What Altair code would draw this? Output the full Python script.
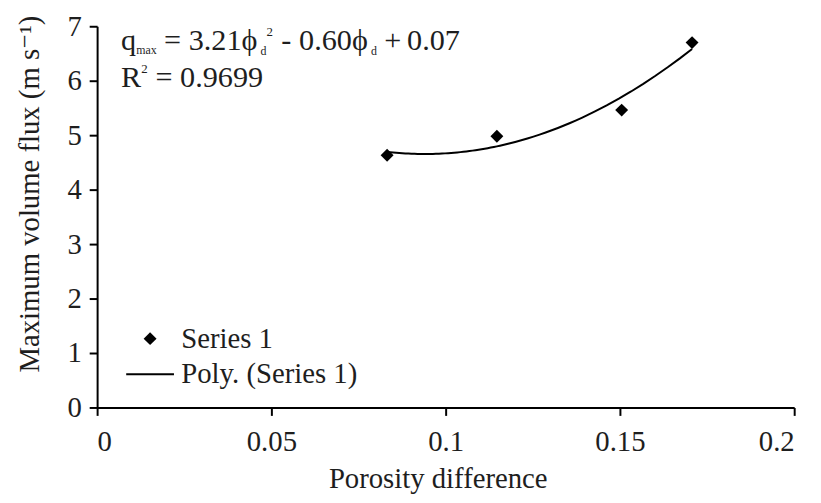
import altair as alt
import pandas as pd

# ---- data ----
porosity_diff = [0.0832, 0.1147, 0.1505, 0.1707]
max_flux = [4.63, 4.98, 5.46, 6.70]
series_name = ["Series 1", "Series 1", "Series 1", "Series 1"]
legend_entries = ["Series 1", "Poly. (Series 1)"]
x_tick_values = [0, 0.05, 0.1, 0.15, 0.2]
y_tick_values = [0, 1, 2, 3, 4, 5, 6, 7]

df = pd.DataFrame({"x": porosity_diff, "y": max_flux, "series": series_name})

FONT = "'Liberation Serif', 'Times New Roman', 'DejaVu Serif', serif"
INK = "#1e1e1e"
W, H = 704, 385

x_enc = alt.X(
    "x:Q",
    scale=alt.Scale(domain=[0, 0.2], nice=False, zero=False),
    axis=alt.Axis(
        values=x_tick_values,
        labelExpr="'' + datum.value",
        title="Porosity difference",
        titleX=344,
        titleY=81,
        titleBaseline="alphabetic",
        titleAnchor="middle",
        labelPadding=12,
    ),
)
y_enc = alt.Y(
    "y:Q",
    scale=alt.Scale(domain=[0, 7], nice=False),
    axis=alt.Axis(
        values=y_tick_values,
        labelExpr="'' + datum.value",
        title="Maximum volume flux (m s\u207b\u00b9)",
        titleX=-59,
        titleY=169,
        titleAngle=-90,
        titleBaseline="alphabetic",
        titleAlign="center",
        labelPadding=8,
    ),
)

DIAMOND = "M-1,0L0,-1L1,0L0,1Z"
DASH = "M-3.7,-0.16L3.7,-0.16L3.7,0.16L-3.7,0.16Z"

points = alt.Chart(df).mark_point(filled=True, color="black", opacity=1, size=170).encode(
    x=x_enc,
    y=y_enc,
    shape=alt.Shape(
        "series:N",
        scale=alt.Scale(domain=legend_entries, range=[DIAMOND, DASH]),
        legend=alt.Legend(
            title=None,
            orient="none",
            legendX=39,
            legendY=301,
            direction="vertical",
            symbolSize=170,
            symbolFillColor="black",
            symbolOpacity=1,
            labelOffset=17,
            labelLimit=400,
            labelFont=FONT,
            labelFontSize=29,
            labelColor=INK,
            rowPadding=6,
            padding=0,
        ),
    ),
)

fit = (
    alt.Chart(df)
    .transform_regression("x", "y", method="poly", order=2)
    .mark_line(color="black", strokeWidth=2)
    .encode(x="x:Q", y="y:Q")
)

ann_src = pd.DataFrame({"k": [0]})


def piece(txt, px, py, size):
    return alt.Chart(ann_src).mark_text(
        align="left", baseline="alphabetic", font=FONT, fontSize=size, color=INK
    ).encode(x=alt.value(px), y=alt.value(py), text=alt.value(txt))


PHI = "\u03d5"
S = 30.5
# equation pieces (pixel positions inside plot area)
eq = [
    piece("q", 24, 24, S),
    piece("max", 39.5, 28, 12),
    piece("=", 67.5, 24, S),
    piece("3.21" + PHI, 92.5, 24, S),
    piece("d", 165, 29, 12),
    piece("2", 171, 10, 13),
    piece("-", 186, 24, S),
    piece("0.60" + PHI, 204, 24, S),
    piece("d", 276.5, 29, 12),
    piece("+", 290, 24, S),
    piece("0.07", 313, 24, S),
    piece("R", 24, 61, S),
    piece("2", 44.5, 47, 13),
    piece("= 0.9699", 59, 61, S),
]

chart = (
    alt.layer(fit, points, *eq)
    .properties(
        width=W,
        height=H,
        autosize=alt.AutoSizeParams(type="none"),
        padding={"left": 90, "top": 16, "right": 19, "bottom": 90},
    )
    .configure_view(stroke=None)
    .configure_axis(
        grid=False,
        domainColor="black",
        domainWidth=2,
        tickColor="black",
        tickWidth=2,
        tickSize=8,
        labelFont=FONT,
        labelFontSize=29,
        labelColor=INK,
        titleFont=FONT,
        titleFontSize=29,
        titleFontWeight="normal",
        titleColor=INK,
    )
)

chart.save("out.html", embed_options={"renderer": "svg", "actions": False})
